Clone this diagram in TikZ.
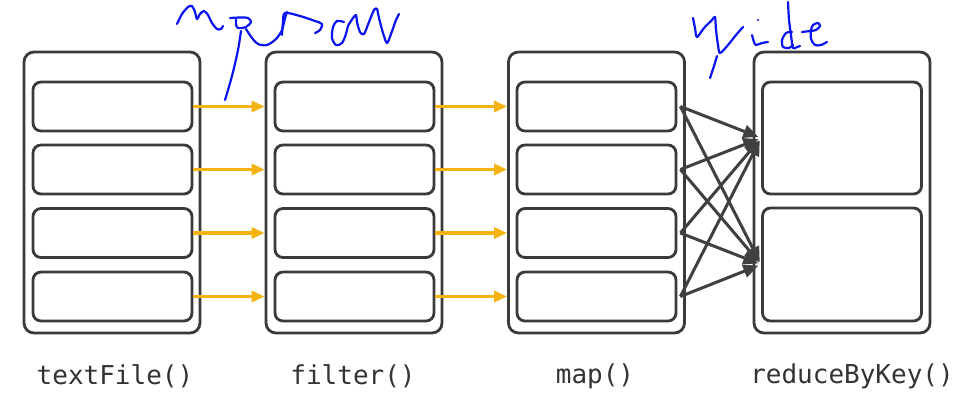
\documentclass[tikz,border=0pt]{standalone}
\usepackage{fontspec}
\newfontfamily\labelfont{DejaVu Sans Mono}
\usetikzlibrary{arrows.meta,calc}
\definecolor{boxgray}{HTML}{3A3A3A}
\definecolor{amber}{HTML}{F5B311}
\definecolor{arrgray}{HTML}{404040}
\definecolor{ink}{HTML}{0A14F0}
\definecolor{labgray}{HTML}{333333}
\begin{document}
\begin{tikzpicture}[x=1pt,y=-1pt,
  outerbox/.style={draw=boxgray,line width=2.8pt,rounded corners=10pt,minimum width=176pt,minimum height=281pt,inner sep=0pt,fill=white},
  innerbox/.style={draw=boxgray,line width=2.8pt,rounded corners=8pt,minimum width=159pt,minimum height=49pt,inner sep=0pt},
  tallbox/.style={innerbox,minimum height=112pt},
  narrowarrow/.style={draw=amber,line width=3.2pt,-{Triangle[length=13pt,width=11pt]}},
  widearrow/.style={draw=arrgray,line width=3pt,-{Triangle[length=15pt,width=13pt]},shorten >=3pt},
  oplabel/.style={font=\labelfont\fontsize{26}{26}\selectfont,text=labgray,inner sep=0pt},
  scribble/.style={draw=ink,line width=2.2pt,line cap=round,line join=round}]
\useasboundingbox (0,0) rectangle (960,400);
\fill[white] (0,0) rectangle (960,400);
% outer boxes
\node[outerbox] (A) at (112,192.5) {};
\node[outerbox] (B) at (354,192.5) {};
\node[outerbox] (C) at (596.5,192.5) {};
\node[outerbox] (D) at (842,192.5) {};
% inner boxes
\foreach \n/\y in {1/106.5,2/169.5,3/233,4/296.5}{
  \node[innerbox] (a\n) at (112.5,\y) {};
  \node[innerbox] (b\n) at (354.5,\y) {};
  \node[innerbox] (c\n) at (596.5,\y) {};
}
\node[tallbox] (d1) at (842,138) {};
\node[tallbox,minimum height=113pt] (d2) at (842,264.5) {};
% narrow arrows
\foreach \n in {1,2,3,4}{
  \draw[narrowarrow] (a\n.east) -- (a\n.east -| B.west);
  \draw[narrowarrow] (b\n.east) -- (b\n.east -| C.west);
}
% wide arrows
\foreach \n in {1,2,3,4}{
  \draw[widearrow] ($(c\n.east)+(3,0)$) -- (d1.west);
  \draw[widearrow] ($(c\n.east)+(3,0)$) -- (d2.west);
}
% labels
\node[oplabel] (la) at (115,376) {textFile()};
\node[oplabel] (lb) at (353,376) {filter()};
\node[oplabel] (lc) at (595,376) {map()};
\node[oplabel] (ld) at (852,376) {reduceByKey()};
% handwritten "narrow"
\draw[scribble] plot[smooth,tension=0.5] coordinates {(177,24) (182,14) (188,7) (192,6) (195,12) (197,19) (200,14) (204,11) (208,15) (212,23) (217,29) (221,29) (223,26)};
\draw[scribble] plot[smooth,tension=0.5] coordinates {(230,18) (240,17.5) (248,18) (251,22) (246,27) (238,28) (236,24) (236,18)};
\draw[scribble] plot[smooth,tension=0.5] coordinates {(241,31) (238,50) (233,72) (228,90) (225,100)};
\draw[scribble] plot[smooth,tension=0.5] coordinates {(246,29) (252,38) (258,44) (267,45) (276,39) (282,30) (285,18) (287,12)};
\draw[scribble] plot[smooth,tension=0.5] coordinates {(282,35) (283,22) (285,13) (300,16) (315,21) (322,24) (320,30) (315,33)};
\draw[scribble] plot[smooth,tension=0.5] coordinates {(344,22) (337,21) (333,27) (332,38) (336,45) (342,43) (346,34) (348,26) (353,18) (356,15) (357,22) (360,32) (364,34) (369,22) (374,10) (377,9) (379,18) (383,33) (387,43) (391,34) (396,20) (399,14)};
% handwritten "wide"
\draw[scribble] plot[smooth,tension=0.5] coordinates {(693,18) (695,28) (697,37) (704,28) (712,20) (715,17) (716,30) (718,45) (720,53) (728,45) (736,35) (743,27)};
\draw[scribble] plot[smooth,tension=0.5] coordinates {(717,56) (714,66) (710,78)};
\draw[scribble] plot[smooth,tension=0.5] coordinates {(752,35) (754,42) (756,45) (762,43) (768,42)};
\fill[ink] (758,20) circle (1.2);
\draw[scribble] plot[smooth,tension=0.5] coordinates {(788,2) (789,20) (791,35) (793,48) (797,47) (800,46)};
\draw[scribble] plot[smooth,tension=0.5] coordinates {(792,32) (786,33) (782,40) (783,47) (789,48) (793,45)};
\draw[scribble] plot[smooth,tension=0.5] coordinates {(802,32) (810,31) (816,30) (820,26) (818,23) (813,25) (811,30) (811,39) (815,45) (821,45) (827,42)};
\end{tikzpicture}
\end{document}
